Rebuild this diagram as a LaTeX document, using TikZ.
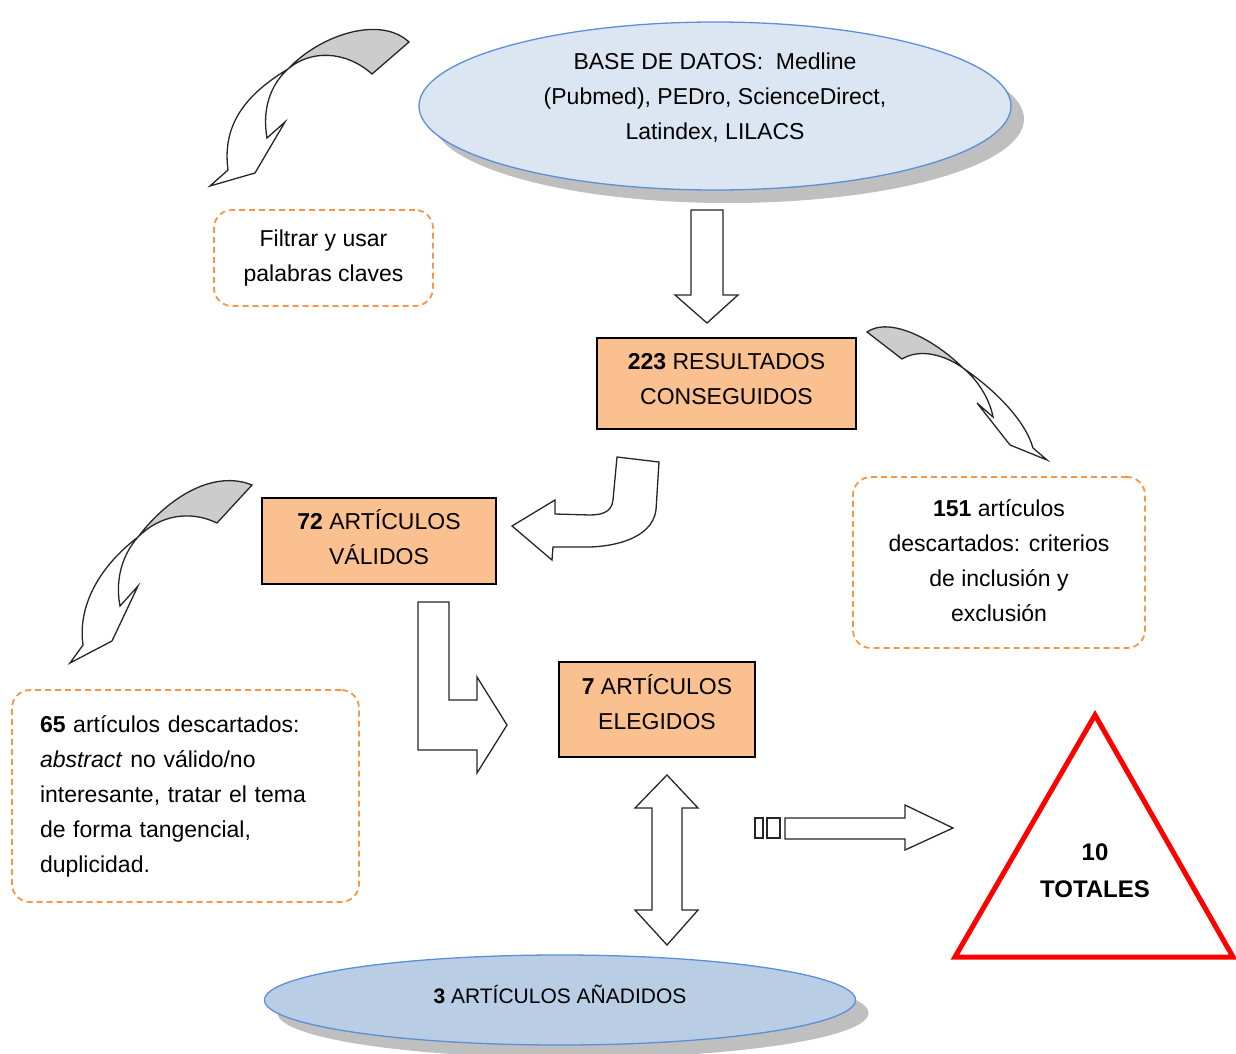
\documentclass[tikz,border=0pt]{standalone}
\usepackage{fontspec}
\setmainfont{Liberation Sans}
\usepackage{tikz}
\usetikzlibrary{shapes.geometric}
\usetikzlibrary{shadows}
\definecolor{dbfill}{HTML}{DCE6F2}
\definecolor{dbline}{HTML}{5B8FD8}
\definecolor{addfill}{HTML}{B9CDE5}
\definecolor{boxfill}{HTML}{FAC090}
\definecolor{dashline}{HTML}{F79646}
\definecolor{tailgray}{HTML}{CCCCCC}
\tikzset{every node/.style={font=\fontsize{23}{35}\selectfont},
 dbase/.style={ellipse,draw=dbline,line width=1.3pt,inner sep=0pt,
   drop shadow={shadow xshift=13pt,shadow yshift=-13pt,fill=black!25,opacity=1}},
 stepbox/.style={rectangle,draw=black,line width=1.3pt,fill=boxfill,inner sep=0pt},
 notebox/.style={rectangle,draw=dashline,line width=1.8pt,dash pattern=on 6pt off 4pt,
   rounded corners=18pt,inner sep=0pt},
 boxtext/.style={align=center,inner sep=0pt},
 blockarrow/.style={draw=black!85,line width=1.3pt,fill=white,line join=miter},
 tail/.style={draw=black!85,line width=1.3pt,fill=tailgray},
 }

\begin{document}
\begin{tikzpicture}[x=1pt,y=-1pt]
        \useasboundingbox (0,0) rectangle (1236,1054);
        % ellipses
        \node[dbase,fill=dbfill,minimum width=592pt,minimum height=168pt] (db) at (715,106) {};
        \node[boxtext] (dbtext) at ([yshift=8pt]db.center)
          {BASE DE DATOS:\ \ Medline\\(Pubmed), PEDro, ScienceDirect,\\Latindex, LILACS};
        \node[dbase,fill=addfill,minimum width=591pt,minimum height=90pt] (anad) at (560,1000) {};
        \node[boxtext,font=\fontsize{21}{30}\selectfont] (anadtext) at ([yshift=6pt]anad.center)
          {\textbf{3} ARTÍCULOS AÑADIDOS};
        % boxes
        \node[stepbox,minimum width=259pt,minimum height=91pt] (res) at (726.5,383.5) {};
        \node[boxtext] (restext) at ([yshift=4pt]res.center) {\textbf{223} RESULTADOS\\CONSEGUIDOS};
        \node[stepbox,minimum width=234pt,minimum height=86pt] (val) at (379,541) {};
        \node[boxtext] (valtext) at ([yshift=4pt]val.center) {\textbf{72} ARTÍCULOS\\VÁLIDOS};
        \node[stepbox,minimum width=196pt,minimum height=95pt] (eleg) at (657,709.5) {};
        \node[boxtext] (elegtext) at ([yshift=7pt]eleg.center) {\textbf{7} ARTÍCULOS\\ELEGIDOS};
        % dashed notes
        \node[notebox,minimum width=219pt,minimum height=96pt,align=center] (filtro) at (323.5,258)
          {Filtrar y usar\\palabras claves};
        \node[notebox,minimum width=292pt,minimum height=171pt] (desc1) at (999,562.5) {};
        \node[boxtext] (desc1text) at ([yshift=2pt]desc1.center)
          {\textbf{151} artículos\\descartados: criterios\\de inclusión y\\exclusión};
        \node[notebox,minimum width=347pt,minimum height=212pt,text width=291pt,align=left] (desc2) at (185.5,796)
          {\textbf{65} artículos descartados:\\\textit{abstract} no válido/no\\interesante, tratar el tema\\de forma tangencial,\\duplicidad.};
        % triangle
        \draw[red,line width=5pt,line join=miter,fill=white] (1095,715) -- (1233,957) -- (955,957) -- cycle;
        \node[align=center,font=\fontsize{24}{37}\selectfont\bfseries] (total) at (1095,871) {10\\TOTALES};
        % straight block arrows
        \draw[blockarrow] (691,210) -- (723,210) -- (723,295) -- (738,295) -- (707,323)
          -- (675,295) -- (691,295) -- cycle;
        \draw[blockarrow] (418,602) -- (449,602) -- (449,700) -- (477,700) -- (477,677)
          -- (507,725) -- (477,773) -- (477,750) -- (418,750) -- cycle;
        \draw[blockarrow] (667,775) -- (698,808) -- (682,808) -- (682,910) -- (698,910)
          -- (667,945) -- (635,910) -- (652,910) -- (652,808) -- (635,808) -- cycle;
        \draw[blockarrow] (617,457) -- (659,462) -- (656,510) .. controls (652,540) and (610,548) .. (580,547)
          -- (553,547) -- (552,560) -- (512,526) -- (555,500) -- (555,514) -- (590,515)
          .. controls (605,515) and (612,510) .. (613,500) -- cycle;
        \draw[blockarrow] (755,818) rectangle (763,838);
        \draw[blockarrow] (767,818) rectangle (780,838);
        \draw[blockarrow] (785,818) -- (905,818) -- (905,805) -- (953,828) -- (905,850)
          -- (905,839) -- (785,839) -- cycle;
        % curved arrows
        \draw[blockarrow] (288,69) .. controls (245,95) and (222,125) .. (228,170) -- (210,186)
          -- (255,173) -- (285,122) -- (267,138) .. controls (262,110) and (270,85) .. (288,69);
        \draw[tail] (288,69) .. controls (320,35) and (380,15) .. (409,42) -- (372,74)
          .. controls (345,50) and (310,50) .. (288,69) -- cycle;
        \draw[blockarrow] (963,368) .. controls (995,390) and (1025,420) .. (1033,448) -- (1047,460)
          -- (1010,445) -- (977,403) -- (993,417) .. controls (990,400) and (978,380) .. (963,368);
        \draw[tail] (867,332) .. controls (890,316) and (935,340) .. (963,368)
          .. controls (945,355) and (920,348) .. (902,359) -- cycle;
        \draw[blockarrow] (138,537) .. controls (95,570) and (78,610) .. (83,645) -- (70,663)
          -- (112,641) -- (138,586) -- (120,606) .. controls (115,580) and (122,555) .. (138,537);
        \draw[tail] (138,537) .. controls (170,495) and (215,470) .. (252,485) -- (217,523)
          .. controls (190,510) and (160,515) .. (138,537) -- cycle;
    \end{tikzpicture}
\end{document}
